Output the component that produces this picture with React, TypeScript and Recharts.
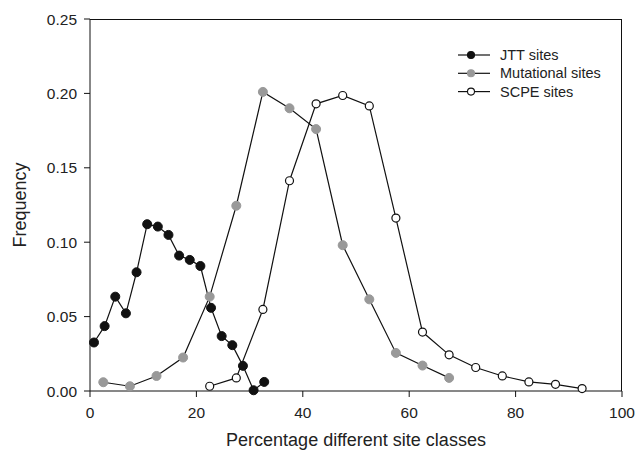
import React from 'react';
import { LineChart, Line, XAxis, YAxis, Label } from 'recharts';

const FONT = '"Liberation Sans", Arial, sans-serif';

// x positions (percentage classes) for each series
const jttX = [0.75, 2.75, 4.75, 6.75, 8.75, 10.75, 12.75, 14.75, 16.75, 18.75, 20.75, 22.75, 24.75, 26.75, 28.75, 30.75, 32.75];
const jttY = [0.0326, 0.0436, 0.0634, 0.0522, 0.0798, 0.1121, 0.1105, 0.1049, 0.091, 0.0881, 0.084, 0.0559, 0.0369, 0.0308, 0.0169, 0.0005, 0.0061];

const mutX = [2.5, 7.5, 12.5, 17.5, 22.5, 27.5, 32.5, 37.5, 42.5, 47.5, 52.5, 57.5, 62.5, 67.5];
const mutY = [0.0059, 0.0032, 0.0101, 0.0225, 0.0634, 0.1245, 0.201, 0.19, 0.176, 0.098, 0.0616, 0.0256, 0.0171, 0.0088];

const scpeX = [22.5, 27.5, 32.5, 37.5, 42.5, 47.5, 52.5, 57.5, 62.5, 67.5, 72.5, 77.5, 82.5, 87.5, 92.5];
const scpeY = [0.0032, 0.0088, 0.0548, 0.1413, 0.193, 0.1986, 0.1916, 0.1162, 0.0396, 0.0243, 0.0158, 0.0101, 0.0061, 0.0045, 0.0016];

const xTicks = [0, 20, 40, 60, 80, 100];
const yTicks = [0, 0.05, 0.1, 0.15, 0.2, 0.25];

const seriesNames = ['JTT sites', 'Mutational sites', 'SCPE sites'];

const toRows = (xs: number[], ys: number[]) => xs.map((x, i) => ({ x, y: ys[i] }));

const jttData = toRows(jttX, jttY);
const mutData = toRows(mutX, mutY);
const scpeData = toRows(scpeX, scpeY);

const legendMarkers = [
  { fill: '#111', stroke: '#111' },
  { fill: '#999', stroke: '#999' },
  { fill: '#fff', stroke: '#111' },
];

const LegendBox = () => (
  <svg width={170} height={60} style={{ position: 'absolute', left: 458, top: 45, zIndex: 2 }}>
    {seriesNames.map((name, i) => {
      const cy = 10 + i * 18.3;
      return (
        <g key={name}>
          <line x1={0} x2={32} y1={cy} y2={cy} stroke="#111" strokeWidth={1.2} />
          <circle cx={13} cy={cy} r={3.5} fill={legendMarkers[i].fill} stroke={legendMarkers[i].stroke} strokeWidth={1.1} />
          <text x={42} y={cy + 5} fontSize={14.5} fontFamily={FONT} fill="#222">
            {name}
          </text>
        </g>
      );
    })}
  </svg>
);

const YTitle = (props: any) => {
  const vb = props.viewBox;
  const cx = 20;
  const cy = vb.y + vb.height / 2;
  return (
    <text
      x={cx}
      y={cy}
      transform={`rotate(-90, ${cx}, ${cy})`}
      textAnchor="middle"
      dominantBaseline="central"
      fontSize={18}
      fontFamily={FONT}
      fill="#222"
    >
      Frequency
    </text>
  );
};

export default function App() {
  return (
    <div style={{ position: 'absolute', left: 0, top: 0, width: 636, height: 451, background: '#fff' }}>
      <LineChart width={636} height={451} margin={{ top: 19, right: 14, bottom: 0, left: 0 }}>
        <XAxis
          type="number"
          dataKey="x"
          domain={[0, 100]}
          ticks={xTicks}
          allowDuplicatedCategory={false}
          height={60}
          stroke="#111"
          tickSize={6}
          tickMargin={10}
          tick={{ fontSize: 15.5, fontFamily: FONT, fill: '#222' }}
        >
          <Label
            value="Percentage different site classes"
            position="insideBottom"
            offset={5}
            style={{ fontSize: 18, fontFamily: FONT, fill: '#222' }}
          />
        </XAxis>
        <YAxis
          type="number"
          domain={[0, 0.25]}
          ticks={yTicks}
          width={90}
          stroke="#111"
          tickSize={6}
          tickMargin={7}
          tickFormatter={(v: number) => v.toFixed(2)}
          tick={{ fontSize: 15.5, fontFamily: FONT, fill: '#222' }}
        >
          <Label content={YTitle} />
        </YAxis>
        <Line
          data={jttData}
          dataKey="y"
          name={seriesNames[0]}
          stroke="#111"
          strokeWidth={1.2}
          dot={{ r: 4.5, fill: '#111', stroke: '#111', strokeWidth: 1 }}
          isAnimationActive={false}
        />
        <Line
          data={mutData}
          dataKey="y"
          name={seriesNames[1]}
          stroke="#111"
          strokeWidth={1.2}
          dot={{ r: 4.5, fill: '#999', stroke: '#999', strokeWidth: 1 }}
          isAnimationActive={false}
        />
        <Line
          data={scpeData}
          dataKey="y"
          name={seriesNames[2]}
          stroke="#111"
          strokeWidth={1.2}
          dot={{ r: 4, fill: '#fff', stroke: '#111', strokeWidth: 1.2 }}
          isAnimationActive={false}
        />
      </LineChart>
      {/* top and right frame of the plot area */}
      <div
        style={{
          position: 'absolute',
          left: 90,
          top: 19,
          width: 532,
          height: 372,
          boxSizing: 'border-box',
          borderTop: '1px solid #111',
          borderRight: '1px solid #111',
          pointerEvents: 'none',
          zIndex: 1,
        }}
      />
      <LegendBox />
    </div>
  );
}
